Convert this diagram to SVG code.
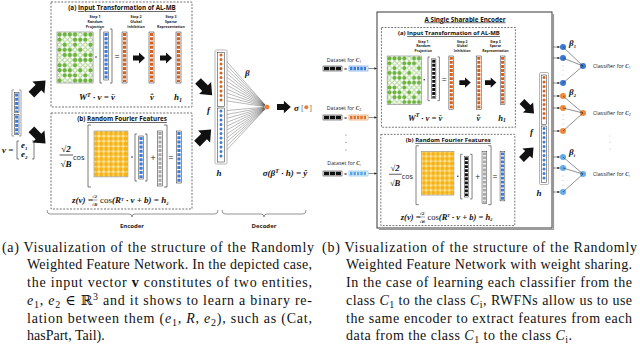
<svg xmlns="http://www.w3.org/2000/svg" width="640" height="346" viewBox="0 0 640 346">
<style>
.ttl{font-family:"Open Sans","Liberation Sans",sans-serif;font-weight:bold;font-size:6.3px;text-anchor:middle;fill:#111}
.ul{text-decoration:underline}
.step{font-family:"Open Sans","Liberation Sans",sans-serif;font-weight:bold;font-size:3.6px;text-anchor:middle;fill:#222}
.m{font-family:"Liberation Serif","DejaVu Serif",serif;font-style:italic;font-weight:bold;font-size:9px;fill:#111}
.mc{text-anchor:middle}
.sans{font-family:"Open Sans","Liberation Sans",sans-serif;fill:#222}
.dash{fill:none;stroke:#333;stroke-width:0.7;stroke-dasharray:2 1.4}
.frm{fill:#fff;stroke:#222;stroke-width:0.5}
.oc{stroke:#d9601b;stroke-width:3.2;stroke-dasharray:3 1.25}
.bc{stroke:#3b7cd8;stroke-width:3.2;stroke-dasharray:3 1.25}
.kc{stroke:#111;stroke-width:3.2;stroke-dasharray:3 1.25}
.gc{stroke:#a8a8a8;stroke-width:3.2;stroke-dasharray:3 1.25}
.brk{fill:none;stroke:#444;stroke-width:0.7}
.cap{font-family:"Liberation Serif","DejaVu Serif",serif;font-size:14px;fill:#111}
.ba{fill:#111}
.ln{fill:none;stroke:#111;stroke-width:0.3}
.dot{stroke-linecap:round;stroke-width:3;stroke-dasharray:0 4.5;fill:none}
.br{fill:none;stroke:#777;stroke-width:0.7}
.bold{font-weight:bold}
.cl{font-family:"Open Sans","Liberation Sans",sans-serif;font-size:5.3px;fill:#222}
.ci{font-family:"Liberation Serif",serif;font-style:italic;font-weight:bold}
.fr{font-family:"DejaVu Serif",serif;font-style:italic;font-weight:bold;font-size:3.8px;fill:#111;text-anchor:middle}
</style>
<defs>
<pattern id="hol" width="5" height="5" patternUnits="userSpaceOnUse"><circle cx="2.5" cy="2.5" r="1.9" fill="none" stroke="#6db33f" stroke-width="0.6"/></pattern>
<pattern id="yel" width="5" height="5" patternUnits="userSpaceOnUse"><rect width="5" height="5" fill="#fbe3a0"/><circle cx="2.5" cy="2.5" r="2.2" fill="#f6b313"/></pattern>
<g id="gm">
<rect width="35" height="50" fill="#fff"/>
<rect width="35" height="50" fill="url(#hol)" stroke="#666" stroke-width="0.5"/>
<g stroke="#6db33f" stroke-width="3.8" stroke-linecap="round" fill="none">
<path d="M2.5,2.5V48" stroke-dasharray="0 5 0 10 0 15"/>
<path d="M7.5,2.5V48" stroke-dasharray="0 10 0 5 0 5"/>
<path d="M12.5,2.5V48" stroke-dasharray="0 15 0 5"/>
<path d="M17.5,2.5V48" stroke-dasharray="0 5 0 5 0 10"/>
<path d="M22.5,7.5V48" stroke-dasharray="0 10"/>
<path d="M27.5,2.5V48" stroke-dasharray="0 5 0 15"/>
<path d="M32.5,2.5V48" stroke-dasharray="0 10 0 10 0 5"/>
</g>
</g>
<g id="ym"><rect width="35" height="45" fill="url(#yel)" stroke="#777" stroke-width="0.5"/></g>
<path id="ar" d="M0,-2.6H6V-5.5L12,0L6,5.5V2.6H0Z"/>
<path id="ard" d="M0,-4H10V-8.5L20,0L10,8.5V4H0Z"/>
<marker id="ah" viewBox="0 0 6 6" refX="5" refY="3" markerWidth="5" markerHeight="5" orient="auto"><path d="M0,0L6,3L0,6Z" fill="#222"/></marker>
</defs>

<!-- ===== Panel (a) ===== -->
<g id="inputV">
<path class="br" d="M14,90h-2v46h2M19,90h2v46h-2"/>
<rect class="frm" x="14.5" y="92.5" width="4.5" height="20"/>
<rect class="frm" x="14.5" y="114.5" width="4.5" height="20"/>
<line class="bc" x1="16.75" y1="93.5" x2="16.75" y2="112"/>
<line class="bc" x1="16.75" y1="115.5" x2="16.75" y2="134"/>
<text class="m" x="2" y="153">v =</text>
<path class="brk" d="M19,141h-2v18h2M32,141h2v18h-2"/>
<text class="m" x="21" y="148" font-size="8">e<tspan font-size="5" dy="1.5">1</tspan></text>
<text class="m" x="21" y="157" font-size="8">e<tspan font-size="5" dy="1.5">2</tspan></text>
</g>

<g id="boxA">
<rect class="dash" x="51" y="2" width="141" height="105"/>
<text class="ttl" x="122" y="10">(a) <tspan class="ul">Input Transformation of AL-MB</tspan></text>
<text class="step" x="95" y="18">Step 1</text><text class="step" x="95" y="23">Random</text><text class="step" x="95" y="28">Projection</text>
<text class="step" x="136" y="18">Step 2</text><text class="step" x="136" y="23">Global</text><text class="step" x="136" y="28">Inhibition</text>
<text class="step" x="171" y="18">Step 3</text><text class="step" x="171" y="23">Sparse</text><text class="step" x="171" y="28">Representation</text>
<use href="#gm" transform="translate(57,32) scale(1.03,1.02)"/>
<circle cx="96" cy="57" r="0.8" fill="#222"/>
<path class="brk" d="M102,29h-2v54h2M110,29h2v54h-2"/>
<rect class="frm" x="103.8" y="32" width="4.5" height="48"/>
<line class="bc" x1="106.05" y1="33" x2="106.05" y2="79"/>
<text class="sans mc" x="117" y="60" font-size="9">=</text>
<rect class="frm" x="122" y="32" width="5" height="51"/>
<line class="oc" x1="124.5" y1="33" x2="124.5" y2="82"/>
<use href="#ar" class="ba" x="133" y="58"/>
<rect class="frm" x="149" y="32" width="5" height="51"/>
<line class="oc" x1="151.5" y1="33" x2="151.5" y2="82"/>
<use href="#ar" class="ba" x="160" y="58"/>
<rect class="frm" x="176" y="32" width="5" height="51"/>
<line class="oc" x1="178.5" y1="33" x2="178.5" y2="82"/>
<text class="m mc" x="97" y="100">W<tspan font-size="6" dy="-3.5">T</tspan><tspan dy="3.5"> · v = v̄</tspan></text>
<text class="m mc" x="152" y="100">v̂</text>
<text class="m mc" x="178" y="100">h<tspan font-size="6" dy="2">1</tspan></text>
</g>

<g id="boxB">
<rect class="dash" x="51" y="113" width="141" height="96"/>
<text class="ttl" x="122" y="121">(b) <tspan class="ul">Random Fourier Features</tspan></text>
<text class="m mc" x="66" y="152">√2</text>
<line x1="59.5" y1="155" x2="73" y2="155" stroke="#111" stroke-width="0.7"/>
<text class="m mc" x="66" y="167">√B</text>
<text class="sans" x="73" y="160" font-size="7.5" fill="#333">cos</text>
<path class="brk" d="M91,125h-3v62h3M164,125h3v62h-3"/>
<use href="#ym" transform="translate(94,131) scale(0.97,1.02)"/>
<circle cx="132" cy="157" r="0.8" fill="#222"/>
<path class="brk" d="M137,134h-2v47h2M145,134h2v47h-2"/>
<rect class="frm" x="138.8" y="136" width="4.5" height="43"/>
<line class="bc" x1="141.05" y1="137" x2="141.05" y2="178"/>
<text class="sans mc" x="153" y="161" font-size="9">+</text>
<rect class="frm" x="157.5" y="131" width="5" height="55"/>
<line class="gc" x1="160" y1="132" x2="160" y2="185"/>
<text class="sans mc" x="171" y="161" font-size="9">=</text>
<rect class="frm" x="176.5" y="131" width="5" height="52"/>
<line class="bc" x1="179" y1="132" x2="179" y2="182"/>
<text class="m" x="72" y="203" font-size="6">z(v) =</text>
<text class="fr" x="94.5" y="198">√2</text>
<line x1="91.5" y1="200" x2="97.5" y2="200" stroke="#111" stroke-width="0.4"/>
<text class="fr" x="94.5" y="206">√B</text>
<text class="m" x="100" y="203" font-size="6.6"><tspan font-style="normal" font-weight="normal">cos</tspan>(R<tspan font-size="4.5" dy="-2.5">T</tspan><tspan dy="2.5"> · v + b) = h</tspan><tspan font-size="4.5" dy="1.5">2</tspan></text>
</g>

<g id="connectorsA">
<use href="#ard" class="ba" transform="translate(31.4,94.6) rotate(-45)"/>
<use href="#ard" class="ba" transform="translate(31.4,129.4) rotate(45)"/>
<use href="#ard" class="ba" transform="translate(198,81) rotate(45)"/>
<use href="#ard" class="ba" transform="translate(197,143.6) rotate(-45)"/>
<path class="ln" d="M221,55L267,107M221,59.5L267,107M221,64L267,107M221,68.5L267,107M221,73L267,107M221,77.5L267,107M221,82L267,107M221,86.5L267,107M221,91L267,107M221,95.5L267,107M221,100L267,107M221,111L267,107M221,115.5L267,107M221,120L267,107M221,124.5L267,107M221,129L267,107M221,133.5L267,107M221,138L267,107M221,142.5L267,107M221,147L267,107M221,151.5L267,107M221,156L267,107"/>
<use href="#ar" class="ba" transform="translate(277,107) scale(1.15)"/>
<path d="M47,210q0,4 3,4H129q3,0 3,3q0,-3 3,-3H215q3,0 3,-4" fill="none" stroke="#666" stroke-width="0.7"/>
<path d="M222,210q0,4 3,4H261q3,0 3,3q0,-3 3,-3H303q3,0 3,-4" fill="none" stroke="#666" stroke-width="0.7"/>
</g>

<g id="fh">
<rect x="215" y="50" width="12" height="114" rx="1.5" fill="#fff" stroke="#888" stroke-width="0.6"/>
<rect class="frm" x="217.5" y="52.5" width="7" height="54"/>
<rect class="frm" x="217.5" y="108" width="7" height="54"/>
<line class="dot" x1="221" y1="55" x2="221" y2="101" stroke="#dd631d"/>
<line class="dot" x1="221" y1="111" x2="221" y2="157" stroke="#3b7cd8"/>
<text class="m" x="207" y="113">f</text>
<text class="m mc" x="219" y="176">h</text>
<text class="m" x="245" y="76">β</text>
</g>

<g id="outNode">
<circle cx="267" cy="107" r="2.6" fill="#ec7a2c" stroke="#fff" stroke-width="0.4"/>
<text class="m" x="294" y="110.5">σ</text>
<text x="301" y="110.5" font-family="Liberation Serif,serif" font-size="9" fill="#777">[</text>
<circle cx="306.3" cy="107.2" r="2" fill="#ec7a2c"/>
<text x="309" y="110.5" font-family="Liberation Serif,serif" font-size="9" fill="#777">]</text>
<text class="m mc" x="285" y="176">σ(β<tspan font-size="6" dy="-3.5">T</tspan><tspan dy="3.5"> · h) = ŷ</tspan></text>
</g>

<g id="labelsA">
<text class="sans mc bold" x="132" y="228" font-size="6">Encoder</text>
<text class="sans mc bold" x="264" y="228" font-size="6">Decoder</text>
</g>

<!-- ===== Panel (b) ===== -->
<g id="encoderBox">
<path d="M379,229.5H553.5V14" fill="none" stroke="#999" stroke-width="1.2"/>
<rect x="377" y="12" width="175" height="216" fill="none" stroke="#222" stroke-width="0.9"/>
<text class="ttl" x="465" y="21.5"><tspan class="ul">A Single Sharable Encoder</tspan></text>
</g>

<g id="boxA2" transform="translate(333,25.6) scale(0.95)">
<rect class="dash" x="51" y="2" width="141" height="105"/>
<text class="ttl" x="122" y="10">(a) <tspan class="ul">Input Transformation of AL-MB</tspan></text>
<text class="step" x="95" y="18">Step 1</text><text class="step" x="95" y="23">Random</text><text class="step" x="95" y="28">Projection</text>
<text class="step" x="136" y="18">Step 2</text><text class="step" x="136" y="23">Global</text><text class="step" x="136" y="28">Inhibition</text>
<text class="step" x="171" y="18">Step 3</text><text class="step" x="171" y="23">Sparse</text><text class="step" x="171" y="28">Representation</text>
<use href="#gm" transform="translate(57,32) scale(1.03,1.02)"/>
<circle cx="96" cy="57" r="0.8" fill="#222"/>
<path class="brk" d="M102,33h-2v46h2M110,33h2v46h-2"/>
<rect class="frm" x="103.8" y="35" width="4.5" height="42"/>
<line class="kc" x1="106.05" y1="36" x2="106.05" y2="76"/>
<text class="sans mc" x="117" y="60" font-size="9">=</text>
<rect class="frm" x="122" y="32" width="5" height="56"/>
<line class="oc" x1="124.5" y1="33" x2="124.5" y2="87"/>
<use href="#ar" class="ba" x="133" y="60"/>
<rect class="frm" x="151" y="32" width="5" height="56"/>
<line class="oc" x1="153.5" y1="33" x2="153.5" y2="87"/>
<use href="#ar" class="ba" x="160" y="60"/>
<rect class="frm" x="176" y="32" width="5" height="51"/>
<line class="oc" x1="178.5" y1="33" x2="178.5" y2="82"/>
<text class="m mc" x="97" y="100">W<tspan font-size="6" dy="-3.5">T</tspan><tspan dy="3.5"> · v = v̄</tspan></text>
<text class="m mc" x="153" y="100">v̂</text>
<text class="m mc" x="178" y="100">h<tspan font-size="6" dy="2">1</tspan></text>
</g>

<g id="boxB2" transform="translate(332.4,27) scale(0.95)">
<rect class="dash" x="51" y="113" width="141" height="96"/>
<text class="ttl" x="122" y="121">(b) <tspan class="ul">Random Fourier Features</tspan></text>
<text class="m mc" x="66" y="152">√2</text>
<line x1="59.5" y1="155" x2="73" y2="155" stroke="#111" stroke-width="0.7"/>
<text class="m mc" x="66" y="167">√B</text>
<text class="sans" x="73" y="160" font-size="7.5" fill="#333">cos</text>
<path class="brk" d="M91,125h-3v62h3M164,125h3v62h-3"/>
<use href="#ym" transform="translate(94,131) scale(0.97,1.02)"/>
<circle cx="132" cy="157" r="0.8" fill="#222"/>
<path class="brk" d="M137,134h-2v47h2M145,134h2v47h-2"/>
<rect class="frm" x="138.8" y="136" width="4.5" height="43"/>
<line class="kc" x1="141.05" y1="137" x2="141.05" y2="178"/>
<text class="sans mc" x="153" y="161" font-size="9">+</text>
<rect class="frm" x="157.5" y="131" width="5" height="55"/>
<line class="gc" x1="160" y1="132" x2="160" y2="185"/>
<text class="sans mc" x="171" y="161" font-size="9">=</text>
<rect class="frm" x="176.5" y="131" width="5" height="52"/>
<line class="bc" x1="179" y1="132" x2="179" y2="182"/>
<text class="m" x="72" y="203" font-size="6">z(v) =</text>
<text class="fr" x="94.5" y="198">√2</text>
<line x1="91.5" y1="200" x2="97.5" y2="200" stroke="#111" stroke-width="0.4"/>
<text class="fr" x="94.5" y="206">√B</text>
<text class="m" x="100" y="203" font-size="6.6"><tspan font-style="normal" font-weight="normal">cos</tspan>(R<tspan font-size="4.5" dy="-2.5">T</tspan><tspan dy="2.5"> · v + b) = h</tspan><tspan font-size="4.5" dy="1.5">2</tspan></text>
</g>

<g id="datasets">
<text class="cl mc" x="344" y="62">Dataset for <tspan class="ci">C</tspan><tspan font-size="3.5" dy="1">1</tspan></text>
<rect class="frm" x="323" y="66" width="19" height="5"/>
<line x1="324" y1="68.5" x2="341" y2="68.5" stroke="#111" stroke-width="3.4" stroke-dasharray="5.2 0.7"/>
<text class="cl mc" x="345.5" y="70.5">=</text>
<rect x="349" y="66" width="19" height="5" fill="#fff" stroke="#3b7cd8" stroke-width="0.5"/>
<line x1="350" y1="68.5" x2="367" y2="68.5" stroke="#3b7cd8" stroke-width="3.4" stroke-dasharray="2.6 0.8"/>
<text class="cl mc" x="344" y="110">Dataset for <tspan class="ci">C</tspan><tspan font-size="3.5" dy="1">2</tspan></text>
<rect class="frm" x="323" y="115" width="19" height="5"/>
<line x1="324" y1="117.5" x2="341" y2="117.5" stroke="#111" stroke-width="3.4" stroke-dasharray="5.2 0.7"/>
<text class="cl mc" x="345.5" y="119.5">=</text>
<rect x="349" y="115" width="19" height="5" fill="#fff" stroke="#e0752a" stroke-width="0.5"/>
<line x1="350" y1="117.5" x2="367" y2="117.5" stroke="#e0752a" stroke-width="3.4" stroke-dasharray="2.6 0.8"/>
<circle cx="346" cy="135" r="0.5" fill="#444"/><circle cx="346" cy="142.5" r="0.5" fill="#444"/><circle cx="346" cy="150" r="0.5" fill="#444"/>
<text class="cl mc" x="344" y="165">Dataset for <tspan class="ci">C</tspan><tspan font-size="3.5" dy="1">i</tspan></text>
<rect class="frm" x="323" y="171" width="19" height="5"/>
<line x1="324" y1="173.5" x2="341" y2="173.5" stroke="#111" stroke-width="3.4" stroke-dasharray="5.2 0.7"/>
<text class="cl mc" x="345.5" y="175.5">=</text>
<rect x="349" y="171" width="19" height="5" fill="#fff" stroke="#5aa6e6" stroke-width="0.5"/>
<line x1="350" y1="173.5" x2="367" y2="173.5" stroke="#5aa6e6" stroke-width="3.4" stroke-dasharray="2.6 0.8"/>
</g>

<g id="fh2">
<rect x="539.5" y="72.5" width="9" height="112" rx="1.2" fill="#fff" stroke="#888" stroke-width="0.6"/>
<rect class="frm" x="541.5" y="75" width="5" height="49.5"/>
<rect class="frm" x="541.5" y="126" width="5" height="56.5"/>
<line class="dot" x1="544" y1="77.5" x2="544" y2="122.5" stroke="#dd631d" stroke-width="2.6"/>
<line class="dot" x1="544" y1="128.5" x2="544" y2="181" stroke="#3b7cd8" stroke-width="2.6"/>
<text class="m" x="530" y="135">f</text>
<text class="m mc" x="539" y="196">h</text>
</g>

<g id="classifier1">
<circle cx="563" cy="47" r="3" fill="#3a78d4"/><circle cx="563" cy="58" r="3" fill="#3a78d4"/><circle cx="563" cy="83" r="3" fill="#3a78d4"/>
<circle cx="563" cy="66" r="0.4" fill="#777"/><circle cx="563" cy="70.5" r="0.4" fill="#777"/><circle cx="563" cy="75" r="0.4" fill="#777"/>
<circle cx="583" cy="66" r="3" fill="#3a78d4"/>
<text class="m" x="569" y="46" font-size="7">β<tspan font-size="4.5" dy="1.5">1</tspan></text>
<text class="cl" x="593" y="68">Classifier for <tspan class="ci">C</tspan><tspan font-size="3.5" dy="1">1</tspan></text>
</g>
<g id="classifier2">
<circle cx="563" cy="96" r="3" fill="#f0893a"/><circle cx="563" cy="108" r="3" fill="#f0893a"/><circle cx="563" cy="131" r="3" fill="#f0893a"/>
<circle cx="563" cy="115" r="0.4" fill="#777"/><circle cx="563" cy="119.5" r="0.4" fill="#777"/><circle cx="563" cy="124" r="0.4" fill="#777"/>
<circle cx="583" cy="113" r="3" fill="#f0893a"/>
<text class="m" x="569" y="95" font-size="7">β<tspan font-size="4.5" dy="1.5">2</tspan></text>
<text class="cl" x="593" y="115">Classifier for <tspan class="ci">C</tspan><tspan font-size="3.5" dy="1">2</tspan></text>
</g>
<circle cx="610" cy="136" r="0.4" fill="#777"/><circle cx="610" cy="142.5" r="0.4" fill="#777"/><circle cx="610" cy="149" r="0.4" fill="#777"/>
<g id="classifier3">
<circle cx="563" cy="157" r="3" fill="#62acea"/><circle cx="563" cy="168" r="3" fill="#62acea"/><circle cx="563" cy="192" r="3" fill="#62acea"/>
<circle cx="563" cy="176" r="0.4" fill="#777"/><circle cx="563" cy="180.5" r="0.4" fill="#777"/><circle cx="563" cy="185" r="0.4" fill="#777"/>
<circle cx="583" cy="174" r="3" fill="#62acea"/>
<text class="m" x="569" y="155" font-size="7">β<tspan font-size="4.5" dy="1.5">i</tspan></text>
<text class="cl" x="593" y="176">Classifier for <tspan class="ci">C</tspan><tspan font-size="3.5" dy="1">i</tspan></text>
</g>

<g id="connectorsB" fill="none" stroke="#222" stroke-width="0.5">
<line x1="368.5" y1="68.5" x2="376.5" y2="68.5" marker-end="url(#ah)"/>
<line x1="368.5" y1="117.5" x2="376.5" y2="117.5" marker-end="url(#ah)"/>
<line x1="368.5" y1="173.5" x2="376.5" y2="173.5" marker-end="url(#ah)"/>
<use href="#ard" class="ba" stroke="none" transform="translate(522,101.5) rotate(45) scale(0.85)"/>
<use href="#ard" class="ba" stroke="none" transform="translate(521.5,159.5) rotate(-45) scale(0.85)"/>
<line x1="553" y1="47" x2="559.5" y2="47" marker-end="url(#ah)"/>
<line x1="553" y1="58" x2="559.5" y2="58" marker-end="url(#ah)"/>
<line x1="553" y1="83" x2="559.5" y2="83" marker-end="url(#ah)"/>
<line x1="553" y1="96" x2="559.5" y2="96" marker-end="url(#ah)"/>
<line x1="553" y1="108" x2="559.5" y2="108" marker-end="url(#ah)"/>
<line x1="553" y1="131" x2="559.5" y2="131" marker-end="url(#ah)"/>
<line x1="553" y1="157" x2="559.5" y2="157" marker-end="url(#ah)"/>
<line x1="553" y1="168" x2="559.5" y2="168" marker-end="url(#ah)"/>
<line x1="553" y1="192" x2="559.5" y2="192" marker-end="url(#ah)"/>
<path d="M563,47L583,66M563,58L583,66M563,83L583,66M563,96L583,113M563,108L583,113M563,131L583,113M563,157L583,174M563,168L583,174M563,192L583,174"/>
</g>

<!-- ===== Captions ===== -->
<g id="captionA">
<text class="cap" x="2" y="251.5" textLength="312" lengthAdjust="spacing">(a) Visualization of the structure of the Randomly</text>
<text class="cap" x="27" y="269" textLength="285" lengthAdjust="spacing">Weighted Feature Network. In the depicted case,</text>
<text class="cap" x="27" y="287" textLength="285" lengthAdjust="spacing">the input vector <tspan font-weight="bold">v</tspan> constitutes of two entities,</text>
<text class="cap" x="27" y="305" textLength="285" lengthAdjust="spacing"><tspan font-style="italic">e</tspan><tspan font-size="10" dy="3">1</tspan><tspan dy="-3">, </tspan><tspan font-style="italic">e</tspan><tspan font-size="10" dy="3">2</tspan><tspan dy="-3"> ∈ ℝ</tspan><tspan font-size="10" dy="-5">3</tspan><tspan dy="5"> and it shows to learn a binary re-</tspan></text>
<text class="cap" x="27" y="322.5" textLength="285" lengthAdjust="spacing">lation between them (<tspan font-style="italic">e</tspan><tspan font-size="10" dy="3">1</tspan><tspan dy="-3">, </tspan><tspan font-style="italic">R</tspan>, <tspan font-style="italic">e</tspan><tspan font-size="10" dy="3">2</tspan><tspan dy="-3">), such as (Cat,</tspan></text>
<text class="cap" x="27" y="340">hasPart, Tail).</text>
</g>
<g id="captionB">
<text class="cap" x="322" y="251.5" textLength="315" lengthAdjust="spacing">(b) Visualization of the structure of the Randomly</text>
<text class="cap" x="346" y="269" textLength="286" lengthAdjust="spacing">Weighted Feature Network with weight sharing.</text>
<text class="cap" x="346" y="287" textLength="286" lengthAdjust="spacing">In the case of learning each classifier from the</text>
<text class="cap" x="346" y="305" textLength="286" lengthAdjust="spacing">class <tspan font-style="italic">C</tspan><tspan font-size="10" dy="3">1</tspan><tspan dy="-3"> to the class </tspan><tspan font-style="italic">C</tspan><tspan font-size="10" dy="3">i</tspan><tspan dy="-3">, RWFNs allow us to use</tspan></text>
<text class="cap" x="346" y="322.5" textLength="286" lengthAdjust="spacing">the same encoder to extract features from each</text>
<text class="cap" x="346" y="340" textLength="226" lengthAdjust="spacing">data from the class <tspan font-style="italic">C</tspan><tspan font-size="10" dy="3">1</tspan><tspan dy="-3"> to the class </tspan><tspan font-style="italic">C</tspan><tspan font-size="10" dy="3">i</tspan><tspan dy="-3">.</tspan></text>
</g>
</svg>
